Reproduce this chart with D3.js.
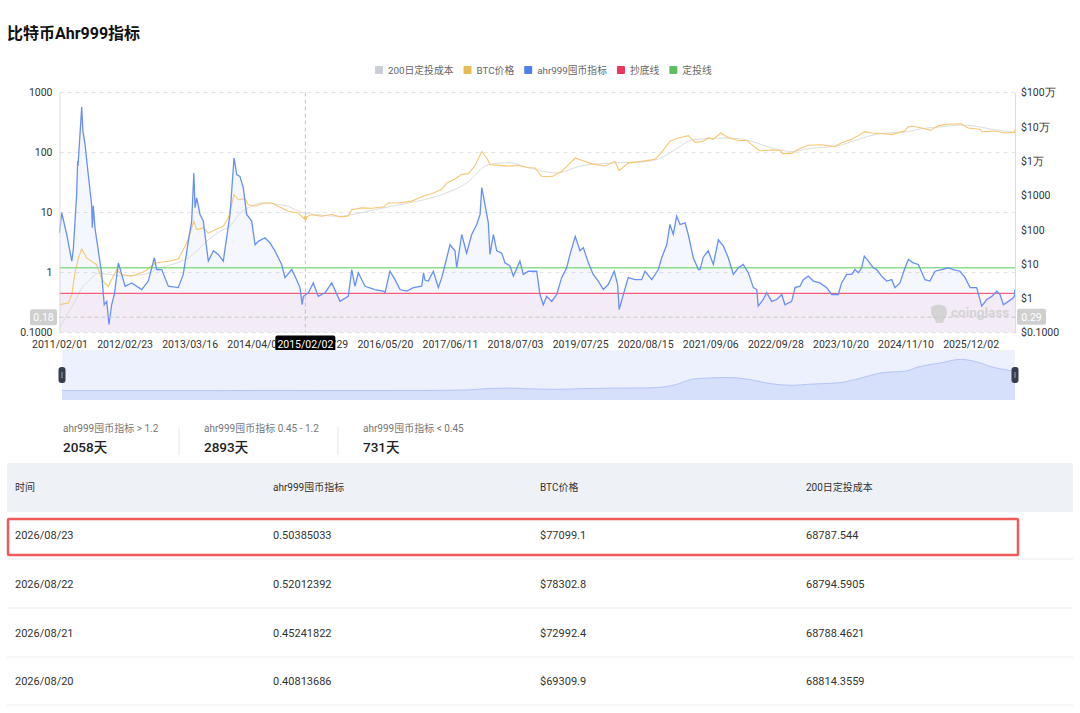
<!DOCTYPE html>
<html><head><meta charset="utf-8">
<script src="https://cdn.jsdelivr.net/npm/d3@7"></script>
<style>
body{margin:0;background:#fff;}
svg{display:block;font-family:Roboto,"Noto Sans CJK SC","Noto Sans",sans-serif;}
</style>
</head><body>
<svg id="c" width="1080" height="713"></svg>
<script>
// ---------------- DATA ----------------
const titleText = "比特币Ahr999指标";
const legendNames = ["200日定投成本","BTC价格","ahr999囤币指标","抄底线","定投线"];
const legendColors = ["#c9cdd5","#e8bb55","#5080ef","#e8385d","#5dbf62"];

const xTickLabels = ["2011/02/01","2012/02/23","2013/03/16","2014/04/07","2015/04/29","2016/05/20","2017/06/11","2018/07/03","2019/07/25","2020/08/15","2021/09/06","2022/09/28","2023/10/20","2024/11/10","2025/12/02"];
const leftTicks = [0.1,1,10,100,1000];
const leftTickLabels = ["0.1000","1","10","100","1000"];
const rightTicks = [0.1,1,10,100,1000,1e4,1e5,1e6];
const rightTickLabels = ["$0.1000","$1","$10","$100","$1000","$1万","$10万","$100万"];

const bottomLine = 0.45;   // 抄底线
const dcaLine = 1.2;       // 定投线

const ahr999 = [
["2011-02-01",4.6],["2011-02-14",9.9],["2011-03-16",4.3],["2011-04-15",1.55],["2011-04-24",2.4],["2011-05-14",20],["2011-05-20",72],["2011-05-22",60],["2011-06-13",570],["2011-06-20",230],["2011-07-03",135],["2011-07-22",43],["2011-08-11",13.6],["2011-08-15",5.6],["2011-08-21",12.9],["2011-08-31",5.5],["2011-09-20",2.3],["2011-10-10",0.93],["2011-10-25",0.29],["2011-11-09",0.33],["2011-11-22",0.136],["2011-12-08",0.29],["2011-12-24",0.43],["2012-01-17",1.45],["2012-02-06",0.93],["2012-02-26",0.59],["2012-04-05",0.67],["2012-06-04",0.52],["2012-07-13",0.72],["2012-08-18",1.76],["2012-09-01",1.12],["2012-10-01",1.12],["2012-11-09",0.59],["2013-01-07",0.56],["2013-02-06",0.93],["2013-03-08",3.3],["2013-03-28",7.2],["2013-04-10",45.7],["2013-04-17",12],["2013-04-27",17.6],["2013-05-17",9.2],["2013-06-05",7.2],["2013-07-05",1.55],["2013-08-04",2.3],["2013-09-02",2.0],["2013-10-02",1.55],["2013-10-22",3.8],["2013-11-11",9.3],["2013-12-05",81],["2013-12-21",43],["2014-01-09",40],["2014-01-29",25.8],["2014-02-18",9.3],["2014-03-20",7.2],["2014-04-09",2.9],["2014-04-28",3.3],["2014-06-07",3.8],["2014-07-07",3.1],["2014-08-05",2.3],["2014-09-14",1.36],["2014-10-04",0.82],["2014-11-13",1.12],["2014-12-12",0.76],["2015-01-01",0.56],["2015-01-14",0.29],["2015-01-21",0.40],["2015-02-20",0.46],["2015-03-21",0.67],["2015-04-20",0.40],["2015-05-30",0.46],["2015-07-09",0.67],["2015-08-27",0.33],["2015-10-15",0.40],["2015-11-05",1.12],["2015-11-24",0.59],["2015-12-14",0.99],["2016-01-23",0.59],["2016-03-22",0.52],["2016-05-10",0.49],["2016-05-21",0.46],["2016-06-19",1.05],["2016-07-19",0.76],["2016-08-18",0.52],["2016-09-27",0.49],["2016-11-05",0.56],["2016-12-25",0.59],["2017-01-05",0.99],["2017-01-13",0.75],["2017-02-02",0.72],["2017-03-04",1.05],["2017-04-03",0.56],["2017-04-23",0.82],["2017-05-23",1.76],["2017-06-11",2.9],["2017-07-11",2.3],["2017-07-21",1.2],["2017-08-20",4.3],["2017-09-18",2.1],["2017-10-18",4.3],["2017-11-17",6.3],["2017-12-07",9.3],["2017-12-17",26],["2018-01-05",13.6],["2018-01-25",6.7],["2018-02-04",2.0],["2018-02-24",4.3],["2018-03-16",2.3],["2018-04-15",2.1],["2018-05-04",1.45],["2018-06-03",1.28],["2018-06-23",0.87],["2018-08-01",1.55],["2018-08-21",0.93],["2018-09-20",1.05],["2018-11-09",1.05],["2018-11-28",0.43],["2018-12-18",0.29],["2019-01-07",0.40],["2019-02-06",0.33],["2019-03-08",0.43],["2019-04-06",0.82],["2019-05-06",1.2],["2019-05-26",2.0],["2019-06-26",4.0],["2019-07-24",2.3],["2019-08-13",2.6],["2019-09-12",1.45],["2019-10-11",0.93],["2019-11-10",0.72],["2019-12-10",0.52],["2020-01-08",0.63],["2020-02-13",1.05],["2020-03-04",0.63],["2020-03-13",0.24],["2020-04-07",0.43],["2020-05-06",0.82],["2020-06-15",0.76],["2020-07-25",0.76],["2020-08-14",1.05],["2020-09-23",0.76],["2020-11-01",1.12],["2020-11-21",1.76],["2020-12-21",2.9],["2021-01-09",6.3],["2021-01-29",4.3],["2021-02-18",8.7],["2021-03-10",6.3],["2021-04-09",6.7],["2021-04-28",4.3],["2021-05-28",1.76],["2021-06-27",1.12],["2021-07-07",1.12],["2021-07-26",1.8],["2021-08-25",2.3],["2021-09-24",1.36],["2021-10-24",3.5],["2021-11-23",2.75],["2021-12-22",1.76],["2022-01-21",0.93],["2022-02-20",1.2],["2022-03-21",1.36],["2022-04-20",0.99],["2022-05-20",0.56],["2022-06-09",0.52],["2022-06-18",0.275],["2022-07-18",0.355],["2022-08-07",0.46],["2022-09-06",0.33],["2022-10-06",0.355],["2022-11-05",0.43],["2022-11-24",0.29],["2023-01-03",0.33],["2023-01-23",0.56],["2023-02-22",0.59],["2023-03-13",0.76],["2023-04-12",0.87],["2023-05-12",0.72],["2023-06-20",0.67],["2023-07-30",0.56],["2023-08-29",0.43],["2023-10-07",0.43],["2023-10-27",0.67],["2023-11-26",0.93],["2023-12-26",0.93],["2024-01-14",1.12],["2024-02-03",0.99],["2024-02-23",1.2],["2024-03-10",1.87],["2024-04-03",1.55],["2024-05-02",1.2],["2024-05-22",1.12],["2024-06-21",0.87],["2024-07-21",0.72],["2024-08-20",0.76],["2024-09-08",0.56],["2024-10-08",0.67],["2024-11-07",1.2],["2024-11-27",1.65],["2024-12-26",1.45],["2025-01-25",1.36],["2025-03-06",0.76],["2025-04-04",0.72],["2025-05-04",1.05],["2025-06-13",1.12],["2025-07-22",1.2],["2025-08-21",1.12],["2025-09-30",1.05],["2025-10-30",0.82],["2025-11-29",0.56],["2026-01-07",0.56],["2026-02-06",0.275],["2026-03-08",0.355],["2026-04-07",0.40],["2026-05-07",0.49],["2026-05-26",0.43],["2026-06-15",0.29],["2026-07-15",0.33],["2026-08-13",0.38],["2026-08-20",0.408],["2026-08-21",0.452],["2026-08-22",0.520],["2026-08-23",0.504]
];

const btcPrice = [
["2011-02-01",0.65],["2011-03-25",0.72],["2011-04-15",1.27],["2011-05-04",5.4],["2011-05-24",14.9],["2011-06-13",27],["2011-07-13",14.9],["2011-08-11",11.9],["2011-09-10",9.5],["2011-09-30",4.9],["2011-10-19",3.1],["2011-11-18",2.2],["2011-12-08",3.5],["2012-01-07",6.8],["2012-02-06",4.9],["2012-04-05",4.4],["2012-06-23",6.1],["2012-08-22",10.6],["2012-11-09",12],["2013-01-07",14],["2013-02-26",40],["2013-03-28",112],["2013-04-10",175],["2013-04-27",100],["2013-06-05",112],["2013-07-05",79],["2013-08-14",100],["2013-10-02",125],["2013-11-01",220],["2013-12-05",1050],["2013-12-31",745],["2014-02-07",800],["2014-02-27",535],["2014-04-09",480],["2014-05-28",600],["2014-07-17",600],["2014-09-14",430],["2014-10-24",343],["2014-12-22",305],["2015-01-21",220],["2015-03-12",272],["2015-05-10",245],["2015-07-09",280],["2015-08-27",235],["2015-10-15",250],["2015-11-05",380],["2016-01-03",430],["2016-03-03",420],["2016-05-10",455],["2016-06-09",600],["2016-08-08",600],["2016-10-26",680],["2017-01-02",940],["2017-03-04",1170],["2017-04-23",1500],["2017-05-23",2300],["2017-07-11",3000],["2017-08-20",4100],["2017-09-28",4300],["2017-11-07",7300],["2017-12-17",19000],["2018-01-15",12300],["2018-02-06",7800],["2018-04-05",7500],["2018-05-24",7100],["2018-07-22",7400],["2018-09-20",6400],["2018-10-30",6300],["2018-12-08",3600],["2019-02-06",3500],["2019-04-06",5000],["2019-05-16",7800],["2019-06-26",12300],["2019-08-03",10500],["2019-10-02",8300],["2019-12-20",7200],["2020-02-17",9800],["2020-03-13",5300],["2020-05-06",8700],["2020-07-25",9800],["2020-10-12",11300],["2020-11-21",18000],["2021-01-09",38000],["2021-02-28",47000],["2021-04-28",55000],["2021-06-07",35000],["2021-07-26",38000],["2021-08-25",48000],["2021-09-24",43000],["2021-11-08",66000],["2021-12-22",48000],["2022-02-20",40000],["2022-04-11",40000],["2022-05-15",29000],["2022-06-28",20000],["2022-09-06",21000],["2022-10-26",20500],["2022-11-10",16500],["2023-01-03",16800],["2023-02-11",22000],["2023-04-12",29000],["2023-06-29",30000],["2023-09-16",26500],["2023-10-27",34000],["2023-12-26",43000],["2024-03-13",72000],["2024-04-23",66000],["2024-06-21",64000],["2024-08-20",59000],["2024-11-07",76000],["2024-11-22",98000],["2024-12-17",105000],["2025-03-06",88000],["2025-04-09",78000],["2025-05-24",108000],["2025-07-22",118000],["2025-10-08",122000],["2025-11-17",92000],["2026-01-27",85000],["2026-02-06",72000],["2026-04-26",75000],["2026-06-25",66000],["2026-08-20",69309.9],["2026-08-21",72992.4],["2026-08-22",78302.8],["2026-08-23",77099.1]
];

const dcaCost200 = [
["2011-02-01",0.13],["2011-03-20",0.35],["2011-05-04",0.81],["2011-06-15",2.0],["2011-07-22",3.1],["2011-09-20",5.4],["2011-11-18",5.0],["2012-02-06",4.5],["2012-06-23",5.0],["2012-10-01",8.0],["2013-01-07",11],["2013-03-08",15],["2013-07-05",50],["2013-10-02",100],["2013-11-01",112],["2014-01-09",300],["2014-02-27",430],["2014-05-18",600],["2014-10-24",475],["2015-01-01",330],["2015-04-20",270],["2015-08-27",245],["2015-12-14",300],["2016-05-10",430],["2016-08-18",535],["2016-12-25",720],["2017-04-23",1050],["2017-09-18",2300],["2018-01-25",7800],["2018-06-03",9000],["2018-08-21",7100],["2019-03-08",4500],["2019-07-24",7100],["2020-01-08",8700],["2020-07-25",9500],["2020-11-01",11500],["2021-01-29",20000],["2021-05-28",42000],["2021-08-25",45000],["2021-12-22",47000],["2022-04-20",40000],["2022-09-06",24000],["2023-01-03",19000],["2023-04-12",23000],["2023-10-07",28000],["2024-01-14",40000],["2024-06-21",64000],["2024-11-07",70000],["2025-01-25",85000],["2025-06-13",100000],["2025-09-30",112000],["2025-12-26",105000],["2026-04-07",85000],["2026-08-23",68787.544]
];

const statLabels = ["ahr999囤币指标 > 1.2","ahr999囤币指标 0.45 - 1.2","ahr999囤币指标 < 0.45"];
const statDays = [2058, 2893, 731];

const tableHeaders = ["时间","ahr999囤币指标","BTC价格","200日定投成本"];
const tableDates = ["2026/08/23","2026/08/22","2026/08/21","2026/08/20"];
const tableAhr = ["0.50385033","0.52012392","0.45241822","0.40813686"];
const tablePrice = ["$77099.1","$78302.8","$72992.4","$69309.9"];
const tableCost = ["68787.544","68794.5905","68788.4621","68814.3559"];

const crossDate = "2015/02/02";
const crossLeftValue = 0.18;
const crossRightValue = 0.29;

// ---------------- DRAW ----------------
const svg = d3.select("#c");
const parse = d3.utcParse("%Y-%m-%d");
const parseSlash = d3.utcParse("%Y/%m/%d");
const fmt = d3.utcFormat("%Y/%m/%d");

const L = 59.5, R = 1015, T = 92.5, B = 332.5;
const x = d3.scaleUtc().domain([parse("2011-02-01"), parse("2026-08-23")]).range([L, R]);
const yL = d3.scaleLog().domain([0.1, 1000]).range([B, T]);
const yR = d3.scaleLog().domain([0.1, 1e6]).range([B, T]);

// title
svg.append("text").attr("x", 7).attr("y", 39).attr("font-size", 16).attr("font-weight", 700)
  .attr("fill", "#111").text(titleText);

// legend (sequential layout)
const lg = svg.append("g").attr("font-size", 9.8).attr("fill", "#666");
let lx = 375;
legendNames.forEach((n, i) => {
  lg.append("rect").attr("x", lx).attr("y", 66).attr("width", 8).attr("height", 8).attr("rx", 1).attr("fill", legendColors[i]);
  const t = lg.append("text").attr("x", lx + 13).attr("y", 74).text(n);
  lx += 13 + t.node().getComputedTextLength() + 10;
});

const plot = svg.append("g");
// pink zone below 抄底线
plot.append("rect").attr("x", L).attr("y", yL(bottomLine)).attr("width", R - L).attr("height", B - yL(bottomLine))
  .attr("fill", "#fef3f6");

// gridlines
plot.append("g").selectAll("line").data(leftTicks).join("line")
  .attr("x1", L).attr("x2", R).attr("y1", d => yL(d)).attr("y2", d => yL(d))
  .attr("stroke", "#e4e4e4").attr("stroke-dasharray", "4,4");

const ahrData = ahr999.map(d => [parse(d[0]), d[1]]);
const btcData = btcPrice.map(d => [parse(d[0]), d[1]]);
const costData = dcaCost200.map(d => [parse(d[0]), d[1]]);

// blue area
plot.append("path").datum(ahrData)
  .attr("d", d3.area().x(d => x(d[0])).y0(B).y1(d => yL(d[1])))
  .attr("fill", "rgba(91,135,244,0.065)");

// cost line
plot.append("path").datum(costData)
  .attr("d", d3.line().x(d => x(d[0])).y(d => yR(d[1])).curve(d3.curveMonotoneX))
  .attr("fill", "none").attr("stroke", "#dddddd").attr("stroke-width", 1);
// btc line
plot.append("path").datum(btcData)
  .attr("d", d3.line().x(d => x(d[0])).y(d => yR(d[1])))
  .attr("fill", "none").attr("stroke", "#f7c772").attr("stroke-width", 1.1);

// green & red lines
plot.append("line").attr("x1", L).attr("x2", R).attr("y1", yL(dcaLine)).attr("y2", yL(dcaLine))
  .attr("stroke", "#8ddc8d").attr("stroke-width", 1.3);
plot.append("line").attr("x1", L).attr("x2", R).attr("y1", yL(bottomLine)).attr("y2", yL(bottomLine))
  .attr("stroke", "#f3607c").attr("stroke-width", 1.3);

// blue line
plot.append("path").datum(ahrData)
  .attr("d", d3.line().x(d => x(d[0])).y(d => yL(d[1])))
  .attr("fill", "none").attr("stroke", "#6790f5").attr("stroke-width", 1.3);

// axes
const axL = svg.append("g").attr("transform", `translate(${L},0)`)
  .call(d3.axisLeft(yL).tickValues(leftTicks).tickFormat((d, i) => leftTickLabels[i]).tickSize(0).tickPadding(7));
const axR = svg.append("g").attr("transform", `translate(${R},0)`)
  .call(d3.axisRight(yR).tickValues(rightTicks).tickFormat((d, i) => rightTickLabels[i]).tickSize(0).tickPadding(6));
const axB = svg.append("g").attr("transform", `translate(0,${B})`)
  .call(d3.axisBottom(x).tickValues(xTickLabels.map(parseSlash)).tickFormat(fmt).tickSize(0).tickPadding(8));
[axL, axR, axB].forEach(a => {
  a.select(".domain").attr("stroke", "#dcdcdc");
  a.selectAll("text").attr("fill", "#333").attr("font-size", 10.5).attr("font-family", "Roboto, sans-serif");
});
axB.select(".domain").attr("stroke", "none");

// watermark
const wm = svg.append("g").attr("fill", "#d4d4d4");
wm.append("path").attr("d", "M931,307 q8,-5 15,0 l1,6 q-1,4 -3,7 l-1,3 h-7 l-1,-3 q-3,-3 -4,-7 z");
wm.append("text").attr("x", 951).attr("y", 317).attr("font-size", 13.5).attr("font-weight", 700).text("coinglass");

// crosshair
const cx = x(parseSlash(crossDate));
const cy = yL(crossLeftValue);
svg.append("line").attr("x1", cx).attr("x2", cx).attr("y1", T).attr("y2", B)
  .attr("stroke", "#c2c2c2").attr("stroke-dasharray", "4,3");
svg.append("line").attr("x1", L).attr("x2", R).attr("y1", cy).attr("y2", cy)
  .attr("stroke", "#c8c8c8").attr("stroke-dasharray", "4,3");
svg.append("circle").attr("cx", cx).attr("cy", yR(220)).attr("r", 2).attr("fill", "#f6c46a");
// left label
svg.append("rect").attr("x", 30).attr("y", cy - 8).attr("width", 27).attr("height", 16).attr("rx", 2).attr("fill", "#cfcfcf");
svg.append("text").attr("x", 43.5).attr("y", cy + 4).attr("text-anchor", "middle").attr("font-size", 10.5).attr("fill", "#fff").text(crossLeftValue.toFixed(2));
// right label
const ry = yR(crossRightValue);
svg.append("rect").attr("x", 1017).attr("y", ry - 8).attr("width", 29).attr("height", 16).attr("rx", 2).attr("fill", "#cfcfcf");
svg.append("text").attr("x", 1031.5).attr("y", ry + 4).attr("text-anchor", "middle").attr("font-size", 10.5).attr("fill", "#fff").text(crossRightValue.toFixed(2));
// bottom label
svg.append("rect").attr("x", cx - 30).attr("y", 335.5).attr("width", 60).attr("height", 17).attr("rx", 2).attr("fill", "#000");
svg.append("text").attr("x", cx).attr("y", 348).attr("text-anchor", "middle").attr("font-size", 10.5).attr("fill", "#fff").text(crossDate);

// slider (dataZoom)
const sL = 62, sR = 1015, sT = 350, sB = 400;
const xs = d3.scaleUtc().domain(x.domain()).range([sL, sR]);
const ext = d3.extent(costData, d => d[1]);
const pad = (ext[1] - ext[0]) * 0.3;
const ys = d3.scaleLinear().domain([ext[0] - pad, ext[1] + pad]).range([sB, sT]);
svg.append("rect").attr("x", sL).attr("y", sT).attr("width", sR - sL).attr("height", sB - sT).attr("fill", "#edf1fd");
svg.append("path").datum(costData)
  .attr("d", d3.area().x(d => xs(d[0])).y0(sB).y1(d => ys(d[1])).curve(d3.curveMonotoneX))
  .attr("fill", "#d6e0fa");
svg.append("path").datum(costData)
  .attr("d", d3.line().x(d => xs(d[0])).y(d => ys(d[1])).curve(d3.curveMonotoneX))
  .attr("fill", "none").attr("stroke", "#b3c5f5").attr("stroke-width", 1);
[sL, sR].forEach(hx => {
  svg.append("rect").attr("x", hx - 3.5).attr("y", 367).attr("width", 7).attr("height", 16).attr("rx", 3).attr("fill", "#363d4e");
  svg.append("line").attr("x1", hx).attr("x2", hx).attr("y1", 372).attr("y2", 378).attr("stroke", "#9aa0ad").attr("stroke-width", 1);
});

// stats
const statX = [63, 204, 363];
statLabels.forEach((s, i) => {
  svg.append("text").attr("x", statX[i]).attr("y", 432).attr("font-size", 10).attr("fill", "#777").text(s);
  svg.append("text").attr("x", statX[i]).attr("y", 452).attr("font-size", 13.5).attr("font-weight", 500).attr("fill", "#222").text(statDays[i] + "天");
});
[179, 338].forEach(dx => svg.append("line").attr("x1", dx).attr("x2", dx).attr("y1", 427).attr("y2", 455).attr("stroke", "#e6e6e6"));

// table
svg.append("rect").attr("x", 7).attr("y", 463).attr("width", 1066).attr("height", 49).attr("fill", "#eef1f5");
const colX = [15, 273, 540, 806];
tableHeaders.forEach((h, i) => svg.append("text").attr("x", colX[i]).attr("y", 491).attr("font-size", 10).attr("fill", "#333").text(h));
const rowY = [535, 584, 633, 681];
const cols = [tableDates, tableAhr, tablePrice, tableCost];
rowY.forEach((ry2, r) => {
  cols.forEach((c, i) => svg.append("text").attr("x", colX[i]).attr("y", ry2 + 4).attr("font-size", 11).attr("fill", "#333").text(c[r]));
  svg.append("line").attr("x1", 7).attr("x2", 1073).attr("y1", ry2 + 24).attr("y2", ry2 + 24).attr("stroke", "#ececec");
});
svg.append("rect").attr("x", 8).attr("y", 519).attr("width", 1010).attr("height", 36).attr("rx", 1)
  .attr("fill", "none").attr("stroke", "#f05a5a").attr("stroke-width", 2.5);
</script>
</body></html>
